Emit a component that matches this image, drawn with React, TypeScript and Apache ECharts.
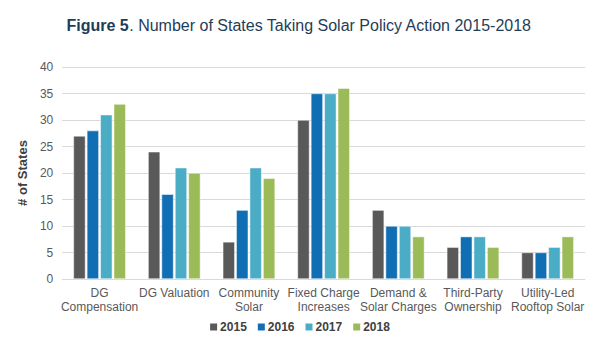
import React, { useEffect, useRef } from "react";
import * as echarts from "echarts";

const categories = [
  "DG\nCompensation",
  "DG Valuation",
  "Community\nSolar",
  "Fixed Charge\nIncreases",
  "Demand &\nSolar Charges",
  "Third-Party\nOwnership",
  "Utility-Led\nRooftop Solar",
];
const years = ["2015", "2016", "2017", "2018"];
const v2015 = [27, 24, 7, 30, 13, 6, 5];
const v2016 = [28, 16, 13, 35, 10, 8, 5];
const v2017 = [31, 21, 21, 35, 10, 8, 6];
const v2018 = [33, 20, 19, 36, 8, 6, 8];
const colors = ["#595959", "#106eb4", "#4bacc6", "#9bbb59"];

export default function App() {
  const ref = useRef<HTMLDivElement>(null);
  useEffect(() => {
    if (!ref.current) return;
    const chart = echarts.init(ref.current, undefined, { renderer: "svg" });
    const font = "Liberation Sans, Arial, sans-serif";
    const all = [v2015, v2016, v2017, v2018];
    chart.setOption({
      animation: false,
      textStyle: { fontFamily: font },
      title: {
        text: "{b|Figure 5}. Number of States Taking Solar Policy Action 2015-2018",
        left: "center",
        top: 4,
        textStyle: {
          fontFamily: font,
          fontSize: 16,
          fontWeight: "normal",
          color: "#1f3d58",
          rich: {
            b: { fontFamily: font, fontSize: 16, fontWeight: "bold", color: "#1f3d58" },
          },
        },
      },
      legend: {
        bottom: 17,
        left: "center",
        itemWidth: 9,
        itemHeight: 9,
        itemGap: 9,
        icon: "rect",
        textStyle: { fontFamily: font, fontSize: 12, fontWeight: "bold", color: "#404040", padding: [0, 0, 0, -3] },
        data: years,
      },
      grid: { left: 49, right: 5, top: 59, bottom: 76 },
      xAxis: {
        type: "category",
        data: categories,
        axisTick: { show: false },
        axisLine: { lineStyle: { color: "#d9d9d9", width: 1 } },
        axisLabel: { interval: 0, fontFamily: font, fontSize: 12, color: "#595959", lineHeight: 14, margin: 7 },
      },
      yAxis: {
        type: "value",
        min: 0,
        max: 40,
        interval: 5,
        name: "# of States",
        nameLocation: "middle",
        nameGap: 27,
        nameTextStyle: { fontFamily: font, fontSize: 13, fontWeight: "bold", color: "#404040" },
        axisLabel: { fontFamily: font, fontSize: 12, color: "#595959", margin: 9 },
        splitLine: { lineStyle: { color: "#d9d9d9", width: 1 } },
        axisLine: { show: false },
        axisTick: { show: false },
      },
      series: years.map((y, i) => ({
        name: y,
        type: "bar",
        data: all[i],
        barWidth: 12,
        barGap: "12%",
        itemStyle: { color: colors[i], borderColor: "#ffffff", borderWidth: 0.5 },
      })),
    });
    return () => chart.dispose();
  }, []);
  return <div ref={ref} style={{ width: 582, height: 347 }} />;
}
